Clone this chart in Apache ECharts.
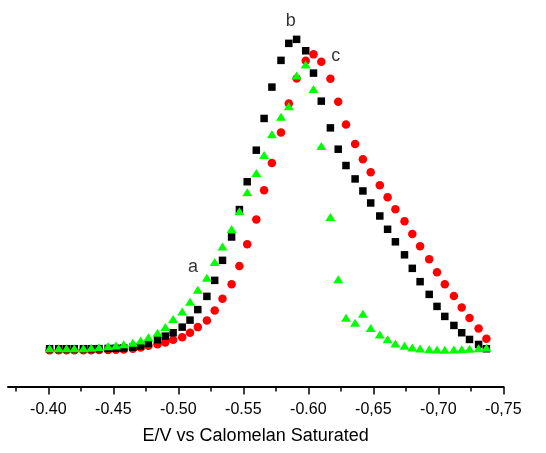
<!DOCTYPE html>
<html>
<head>
<meta charset="utf-8">
<script src="https://cdn.jsdelivr.net/npm/echarts@6/dist/echarts.min.js"></script>
<style>html,body{margin:0;padding:0;background:#fff;}#c{width:546px;height:453px;}</style>
</head>
<body>
<div id="c"></div>
<script>
// Potential (V vs SCE)
var potentials = [-0.401,-0.408,-0.414,-0.420,-0.427,-0.433,-0.439,-0.446,-0.452,-0.458,-0.465,-0.471,-0.477,-0.484,-0.490,-0.496,-0.503,-0.509,-0.515,-0.522,-0.528,-0.534,-0.541,-0.547,-0.553,-0.560,-0.566,-0.572,-0.579,-0.585,-0.591,-0.598,-0.604,-0.610,-0.617,-0.623,-0.629,-0.636,-0.642,-0.648,-0.655,-0.661,-0.667,-0.674,-0.680,-0.686,-0.693,-0.699,-0.705,-0.712,-0.718,-0.724,-0.731,-0.737];
// current (arbitrary units)
var seriesB = [0.17,0.17,0.17,0.17,0.17,0.17,0.18,0.20,0.22,0.25,0.32,0.45,0.70,1.07,1.43,1.77,2.33,3.03,4.08,5.40,7.00,9.00,11.33,14.07,16.85,20.00,23.17,26.30,28.97,30.67,31.07,29.93,27.70,24.90,22.23,20.10,18.47,17.13,15.93,14.73,13.43,12.10,10.85,9.55,8.20,6.87,5.60,4.40,3.40,2.50,1.77,1.10,0.60,0.17];
var seriesC = [0.03,0.03,0.03,0.03,0.03,0.03,0.04,0.05,0.07,0.10,0.17,0.30,0.47,0.63,0.80,1.07,1.33,1.77,2.33,3.00,4.00,5.17,6.60,8.43,10.60,13.07,16.00,18.73,21.77,24.67,27.17,28.93,29.57,28.83,27.13,24.83,22.57,20.63,19.10,17.80,16.50,15.30,14.10,12.90,11.63,10.40,9.10,7.80,6.60,5.43,4.30,3.23,2.20,1.17];
var seriesA = [0.23,0.23,0.23,0.23,0.23,0.27,0.33,0.43,0.50,0.63,0.77,1.00,1.33,1.77,2.35,3.13,3.90,4.87,6.07,7.27,8.83,10.37,12.13,13.90,15.80,17.73,19.53,21.60,23.33,24.40,27.47,28.57,26.10,20.43,13.33,7.10,3.27,2.77,3.67,2.23,1.60,1.12,0.70,0.47,0.30,0.20,0.13,0.10,0.07,0.10,0.13,0.17,0.23,0.27];
var majorTicks = [-0.40,-0.45,-0.50,-0.55,-0.60,-0.65,-0.70,-0.75];
var tickLabels = ['-0.40','-0.45','-0.50','-0.55','-0.60','-0,65','-0,70','-0,75'];
var minorTicks = [-0.375,-0.425,-0.475,-0.525,-0.575,-0.625,-0.675,-0.725];
var curveLabels = [['a',-0.5113,8.3],['b',-0.5865,32.93],['c',-0.6211,29.4]];

function pairs(ys){ return potentials.map(function(x,i){ return [x, ys[i]]; }); }

var chart = echarts.init(document.getElementById('c'), null, {renderer:'canvas'});
var font = 'Liberation Sans, Arial, sans-serif';
chart.setOption({
  animation: false,
  backgroundColor: '#fff',
  grid: {left: 8, right: 42.7, top: 0, bottom: 66.5, containLabel: false},
  xAxis: [{
    type: 'value', inverse: true, min: -0.75, max: -0.369,
    axisLine: {show: true, onZero: false, lineStyle: {color: '#000', width: 2}},
    axisTick: {show: true, length: 8, lineStyle: {color: '#000', width: 1.5}, customValues: majorTicks},
    axisLabel: {show: true, customValues: majorTicks, margin: 15, fontSize: 16, color: '#000', fontFamily: font,
      formatter: function(v){ for (var i=0;i<majorTicks.length;i++){ if (Math.abs(majorTicks[i]-v)<1e-6) return tickLabels[i]; } return ''; }},
    splitLine: {show: false},
    name: 'E/V vs Calomelan Saturated', nameLocation: 'middle', nameGap: 41,
    nameTextStyle: {fontSize: 18, color: '#000', fontFamily: font}
  },{
    type: 'value', inverse: true, min: -0.75, max: -0.369, position: 'bottom',
    axisLine: {show: false, onZero: false},
    axisTick: {show: true, length: 5, lineStyle: {color: '#000', width: 1.5}, customValues: minorTicks},
    axisLabel: {show: false}, splitLine: {show: false}
  }],
  yAxis: {type: 'value', min: -3.6, max: 35, show: false, splitLine: {show: false}},
  series: [
    {type: 'scatter', name: 'c', data: pairs(seriesC), symbol: 'circle', symbolSize: 8.5, itemStyle: {color: '#ff0000', opacity: 1}, z: 2},
    {type: 'scatter', name: 'b', data: pairs(seriesB), symbol: 'rect', symbolSize: 7.5, itemStyle: {color: '#000000', opacity: 1}, z: 3},
    {type: 'scatter', name: 'a', data: pairs(seriesA), symbol: 'triangle', symbolSize: [10, 8], itemStyle: {color: '#00ff00', opacity: 1}, z: 4},
    {type: 'scatter', data: curveLabels.map(function(l){ return {value: [l[1], l[2]], name: l[0]}; }),
     symbolSize: 0, silent: true, z: 5,
     label: {show: true, position: 'inside', formatter: '{b}', fontSize: 18, color: '#000', fontFamily: font}}
  ]
});
</script>
</body>
</html>
